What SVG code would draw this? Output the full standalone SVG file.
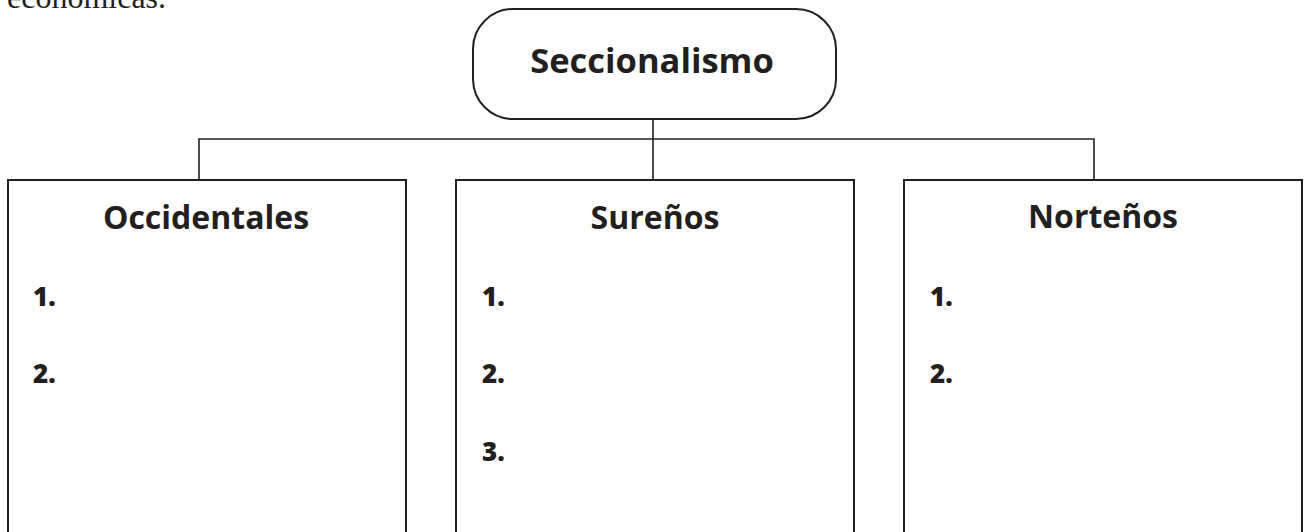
<svg xmlns="http://www.w3.org/2000/svg" width="1304" height="532" viewBox="0 0 1304 532">
<style>
.box{fill:#fff;stroke:#231f20;stroke-width:2}
.conn{fill:none;stroke:#231f20;stroke-width:1.6}
.title{font-family:"Open Sans","Noto Sans",sans-serif;font-weight:bold;fill:#231f20;text-anchor:middle}
.num{font-family:"Open Sans","Noto Sans",sans-serif;font-weight:800;fill:#231f20;font-size:26px}
.top{font-family:"Liberation Serif",serif;font-size:32px;fill:#231f20}
</style>
<rect width="1304" height="532" fill="#fff"/>
<text class="top" x="7" y="8">económicas.</text>
<g id="connectors">
<line class="conn" x1="653" y1="119" x2="653" y2="180"/>
<polyline class="conn" points="199,180 199,139 1094,139 1094,180"/>
</g>
<g id="seccionalismo">
<rect class="box" x="473" y="9" width="363" height="110" rx="40" ry="40"/>
<text class="title" x="652" y="73" font-size="34.5">Seccionalismo</text>
</g>
<g id="occidentales">
<rect class="box" x="8" y="180" width="398" height="370"/>
<text class="title" x="206" y="229" font-size="32">Occidentales</text>
<text class="num" x="33" y="306">1.</text>
<text class="num" x="33" y="383">2.</text>
</g>
<g id="surenos">
<rect class="box" x="456" y="180" width="398" height="370"/>
<text class="title" x="655" y="229" font-size="32">Sureños</text>
<text class="num" x="482" y="306">1.</text>
<text class="num" x="482" y="383">2.</text>
<text class="num" x="482" y="461">3.</text>
</g>
<g id="nortenos">
<rect class="box" x="904" y="180" width="398" height="370"/>
<text class="title" x="1103" y="228" font-size="32">Norteños</text>
<text class="num" x="930" y="306">1.</text>
<text class="num" x="930" y="383">2.</text>
</g>
</svg>
